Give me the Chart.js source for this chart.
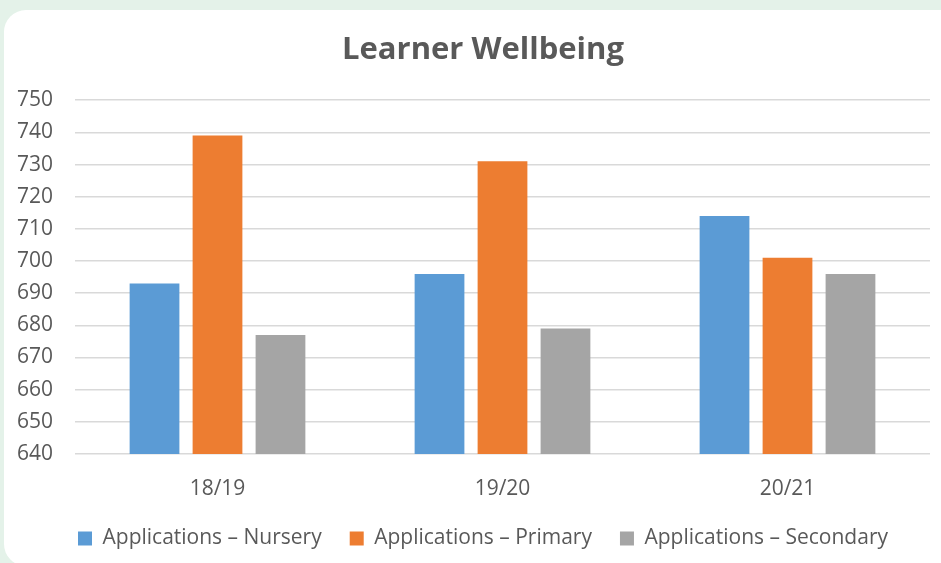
<!DOCTYPE html>
<html>
<head>
<meta charset="utf-8">
<script src="https://cdn.jsdelivr.net/npm/chart.js@4"></script>
<style>
  html, body { margin: 0; padding: 0; background: #e4f2e9; }
  #wrap { position: relative; width: 941px; height: 563px; overflow: hidden; }
  #card { position: absolute; left: 4px; top: 10px; width: 960px; height: 556px; background: #fff; border-radius: 22px; }
  #myChart { position: absolute; left: 0; top: 0; }
</style>
</head>
<body>
<div id="wrap">
  <div id="card"></div>
  <canvas id="myChart" width="941" height="563"></canvas>
</div>
<script>
var years = ["18/19", "19/20", "20/21"];
var nursery = [693, 696, 714];
var primary = [739, 731, 701];
var secondary = [677, 679, 696];
var seriesNames = ["Applications \u2013 Nursery", "Applications \u2013 Primary", "Applications \u2013 Secondary"];

var textColor = '#595959';
var fontFamily = '"Open Sans", Lato, sans-serif';

var ctx = document.getElementById("myChart").getContext('2d');
var config = {
  type: 'bar',
  data: {
    labels: years,
    datasets: [
      { label: seriesNames[0], data: nursery, backgroundColor: '#5b9bd5' },
      { label: seriesNames[1], data: primary, backgroundColor: '#ed7d31' },
      { label: seriesNames[2], data: secondary, backgroundColor: '#a5a5a5' }
    ]
  },
  options: {
    responsive: false,
    animation: false,
    datasets: {
      bar: { categoryPercentage: 0.663, barPercentage: 0.79 }
    },
    // extra left padding keeps the title and legend centred like the original
    layout: { padding: { left: 36, right: 11, top: 0, bottom: 4 } },
    plugins: {
      tooltip: { enabled: false },
      title: {
        display: true,
        text: 'Learner Wellbeing',
        color: textColor,
        font: { family: fontFamily, size: 31, weight: 'bold' },
        padding: { top: 32, bottom: 31 }
      },
      legend: {
        position: 'bottom',
        labels: {
          color: textColor,
          font: { family: fontFamily, size: 21 },
          boxWidth: 14,
          boxHeight: 14,
          padding: 28
        }
      }
    },
    scales: {
      x: {
        grid: { display: false },
        border: { display: false },
        ticks: { color: textColor, font: { family: fontFamily, size: 21 }, padding: 14 },
        afterFit: function(scale) { scale.height = 46; }
      },
      y: {
        min: 640,
        max: 750,
        // mirrored ticks are not clipped to the narrow axis box
        ticks: { stepSize: 10, color: textColor, font: { family: fontFamily, size: 21 }, mirror: true, padding: -58 },
        grid: { color: '#d9d9d9', lineWidth: 1.5, drawTicks: false },
        border: { display: false },
        afterFit: function(scale) { scale.width = 39; }
      }
    }
  }
};
var myChart = new Chart(ctx, config);
</script>
</body>
</html>
